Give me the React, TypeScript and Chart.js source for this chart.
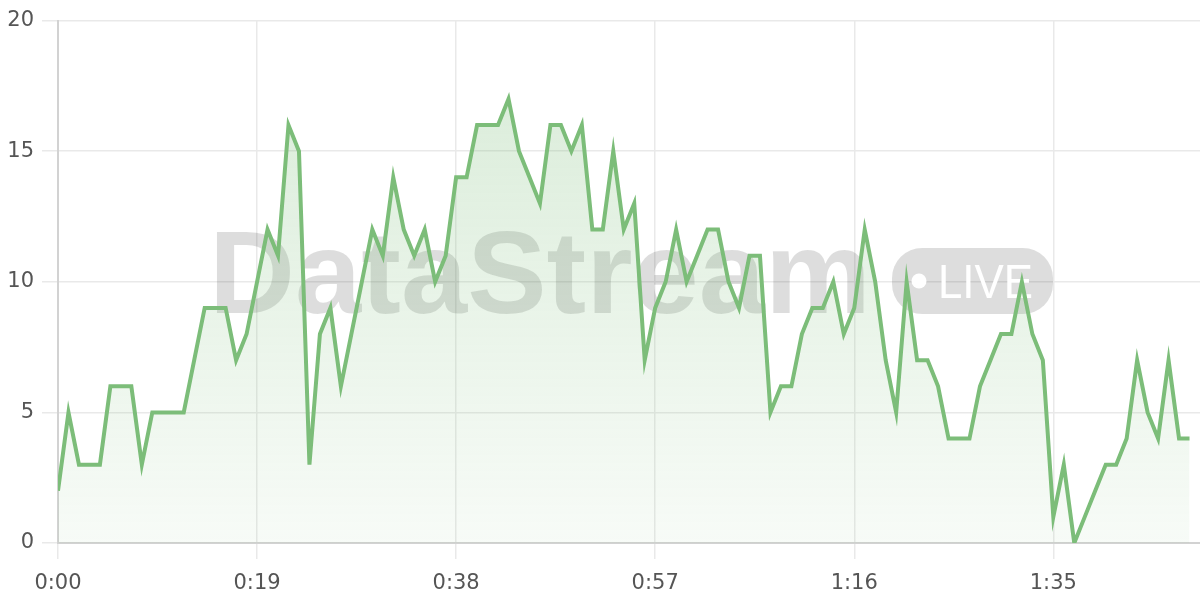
import { useEffect, useRef } from 'react'
import { Chart, registerables } from 'chart.js'

Chart.register(...registerables)

// one reading per second, 0:00 .. 1:48
const values = [
  2, 5, 3, 3, 3, 6, 6, 6, 3, 5,
  5, 5, 5, 7, 9, 9, 9, 7, 8, 10,
  12, 11, 16, 15, 3, 8, 9, 6, 8, 10,
  12, 11, 14, 12, 11, 12, 10, 11, 14, 14,
  16, 16, 16, 17, 15, 14, 13, 16, 16, 15,
  16, 12, 12, 15, 12, 13, 7, 9, 10, 12,
  10, 11, 12, 12, 10, 9, 11, 11, 5, 6,
  6, 8, 9, 9, 10, 8, 9, 12, 10, 7,
  5, 10, 7, 7, 6, 4, 4, 4, 6, 7,
  8, 8, 10, 8, 7, 1, 3, 0, 1, 2,
  3, 3, 4, 7, 5, 4, 7, 4, 4,
]
const xTickSeconds = [0, 19, 38, 57, 76, 95]
const yTicks = [0, 5, 10, 15, 20]
const xMax = 109

const fmtTime = (s: number) => `${Math.floor(s / 60)}:${String(s % 60).padStart(2, '0')}`

const FONT = '"DejaVu Sans", sans-serif'
const MARK_FONT = '"Liberation Sans", Arial, sans-serif'

// draws text stretched to a given width
const fitText = (ctx: CanvasRenderingContext2D, text: string, x: number, y: number, w: number) => {
  const m = ctx.measureText(text).width
  ctx.save()
  ctx.translate(x, y)
  ctx.scale(w / m, 1)
  ctx.fillText(text, 0, 0)
  ctx.restore()
}

// faint "DataStream LIVE" brand mark behind the line
const watermark = {
  id: 'watermark',
  beforeDatasetsDraw(chart: Chart) {
    const { ctx } = chart
    ctx.save()
    ctx.fillStyle = 'rgba(0,0,0,0.135)'
    ctx.textBaseline = 'alphabetic'
    ctx.textAlign = 'left'
    ctx.font = `bold 117px ${MARK_FONT}`
    fitText(ctx, 'DataStream', 209, 313, 662)

    // pill
    ctx.beginPath()
    ctx.roundRect(892, 248, 161, 66, 30)
    ctx.fill()

    ctx.fillStyle = '#ffffff'
    ctx.beginPath()
    ctx.arc(919, 281, 7.5, 0, Math.PI * 2)
    ctx.fill()
    ctx.font = `48px ${MARK_FONT}`
    fitText(ctx, 'LIVE', 938, 298, 95)
    ctx.restore()
  },
}

const App = () => {
  const canvasRef = useRef<HTMLCanvasElement>(null)

  useEffect(() => {
    const chart = new Chart(canvasRef.current!, {
      type: 'line',
      data: {
        datasets: [
          {
            data: values.map((v, i) => ({ x: i, y: v })),
            borderColor: 'rgb(124, 189, 121)',
            borderWidth: 4,
            pointRadius: 0,
            tension: 0,
            fill: 'origin',
            backgroundColor: (ctx: any) => {
              const area = ctx.chart.chartArea
              if (!area) return 'rgba(124,189,121,0.15)'
              const g = ctx.chart.ctx.createLinearGradient(0, area.top, 0, area.bottom)
              g.addColorStop(0, 'rgba(124,189,121,0.3)')
              g.addColorStop(1, 'rgba(124,189,121,0.06)')
              return g
            },
          },
        ],
      },
      options: {
        responsive: true,
        maintainAspectRatio: false,
        animation: false,
        layout: { padding: { top: 19, left: 0, right: 0, bottom: 0 } },
        plugins: {
          legend: { display: false },
          tooltip: { enabled: false },
        },
        scales: {
          x: {
            type: 'linear',
            min: 0,
            max: xMax,
            afterBuildTicks: (axis: any) => {
              axis.ticks = xTickSeconds.map((v) => ({ value: v }))
            },
            afterFit: (axis: any) => {
              axis.height = 57
            },
            ticks: {
              callback: (v: any) => fmtTime(Number(v)),
              color: '#555555',
              font: { family: FONT, size: 21 },
              padding: 12,
              maxRotation: 0,
            },
            grid: { color: '#e9e9e9', tickLength: 16, lineWidth: 1.5 },
            border: { color: '#d2d2d2', width: 2 },
          },
          y: {
            min: 0,
            max: 20,
            afterBuildTicks: (axis: any) => {
              axis.ticks = yTicks.map((v) => ({ value: v }))
            },
            afterFit: (axis: any) => {
              axis.width = 58
            },
            ticks: {
              color: '#555555',
              font: { family: FONT, size: 21 },
              padding: 8,
            },
            grid: { color: '#e9e9e9', tickLength: 16, lineWidth: 1.5 },
            border: { color: '#d2d2d2', width: 2 },
          },
        },
      },
      plugins: [watermark],
    })

    return () => chart.destroy()
  }, [])

  return (
    <div style={{ position: 'fixed', left: 0, top: 0, width: 1200, height: 600, background: '#fff' }}>
      <canvas ref={canvasRef}></canvas>
    </div>
  )
}

export default App
